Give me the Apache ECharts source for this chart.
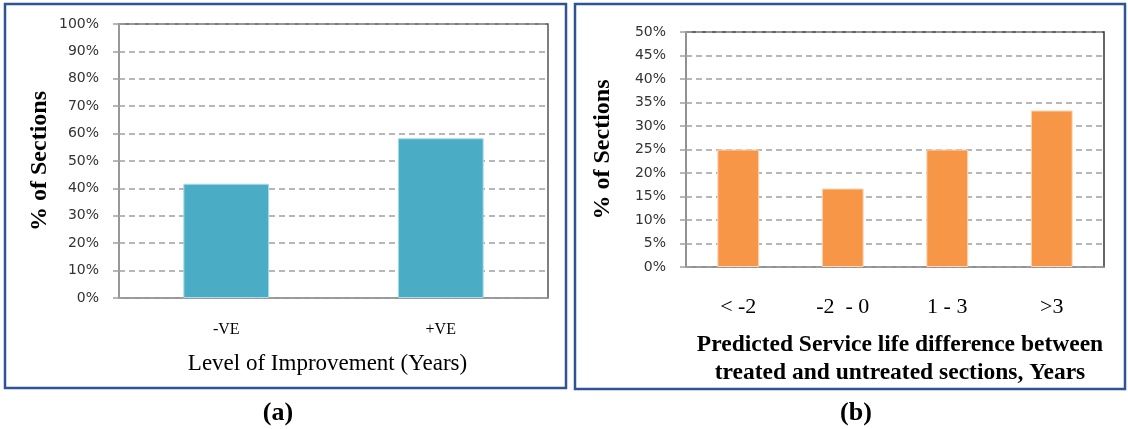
<!DOCTYPE html>
<html>
<head>
<meta charset="utf-8">
<script src="https://cdn.jsdelivr.net/npm/echarts@6/dist/echarts.min.js"></script>
<style>
html,body{margin:0;padding:0;background:#fff;}
#chart{width:1128px;height:429px;}
</style>
</head>
<body>
<div id="chart"></div>
<script>
// ---- data ----
const catsA = ['-VE', '+VE'];
const valsA = [41.7, 58.3];
const catsB = ['< -2', '-2  - 0', '1 - 3', '>3'];
const valsB = [25, 16.7, 25, 33.3];
const yMaxA = 100, yStepA = 10;
const yMaxB = 50, yStepB = 5;
const yNameA = '% of Sections';
const yNameB = '% of Sections';
const xNameA = 'Level of Improvement (Years)';
const xNameB = 'Predicted Service life difference between\ntreated and untreated sections, Years';
const panelLabels = ['(a)', '(b)'];

const serif = '"Liberation Serif", "Times New Roman", serif';
const sans = '"DejaVu Sans", Verdana, sans-serif';

const chart = echarts.init(document.getElementById('chart'), null, {renderer: 'canvas'});

function yAxisCfg(gridIndex, max, step, name, gap) {
  return {
    type: 'value', gridIndex: gridIndex, min: 0, max: max, interval: step,
    name: name, nameLocation: 'middle', nameRotate: 90, nameGap: gap,
    nameTextStyle: {fontFamily: serif, fontWeight: 'bold', fontSize: 24, color: '#000', lineHeight: 24},
    axisLine: {show: true, lineStyle: {color: '#a0a0a0', width: 1.5}},
    axisTick: {show: true, inside: false, length: 6, lineStyle: {color: '#a0a0a0', width: 1.5}},
    axisLabel: {formatter: '{value}%', margin: 20, fontFamily: sans, fontSize: 14, color: '#333'},
    splitLine: {show: true, lineStyle: {color: '#a0a0a0', type: [6, 4], width: 1.5}}
  };
}

const option = {
  animation: false,
  backgroundColor: '#fff',
  grid: [
    {left: 119, top: 24, width: 429, height: 274, show: true, borderColor: '#555', borderWidth: 1.5, backgroundColor: 'transparent'},
    {left: 686, top: 32, width: 418, height: 235, show: true, borderColor: '#333', borderWidth: 1.5, backgroundColor: 'transparent'}
  ],
  xAxis: [
    {
      type: 'category', gridIndex: 0, data: catsA,
      name: xNameA, nameLocation: 'middle', nameGap: 55,
      nameTextStyle: {fontFamily: serif, fontSize: 23, color: '#000', lineHeight: 22, padding: [0, 12, 0, 0]},
      axisLine: {lineStyle: {color: '#a0a0a0', width: 1.5}},
      axisTick: {show: false},
      axisLabel: {margin: 24, fontFamily: serif, fontSize: 16, lineHeight: 16, color: '#000'}
    },
    {
      type: 'category', gridIndex: 1, data: catsB,
      name: xNameB, nameLocation: 'middle', nameGap: 64,
      nameTextStyle: {fontFamily: serif, fontWeight: 'bold', fontSize: 23.5, color: '#000', lineHeight: 28, padding: [0, 0, 0, 10]},
      axisLine: {lineStyle: {color: '#a0a0a0', width: 1.5}},
      axisTick: {show: false},
      axisLabel: {margin: 29, fontFamily: serif, fontSize: 22, lineHeight: 22, color: '#000'}
    }
  ],
  yAxis: [
    yAxisCfg(0, yMaxA, yStepA, yNameA, 67),
    yAxisCfg(1, yMaxB, yStepB, yNameB, 71)
  ],
  series: [
    {type: 'bar', xAxisIndex: 0, yAxisIndex: 0, data: valsA, barWidth: '40%',
     itemStyle: {color: '#4bacc6', borderColor: '#a9dbe8', borderWidth: 1}},
    {type: 'bar', xAxisIndex: 1, yAxisIndex: 1, data: valsB, barWidth: '40%',
     itemStyle: {color: '#f79646', borderColor: '#fcd5b4', borderWidth: 1}}
  ],
  graphic: [
    {type: 'rect', shape: {x: 5, y: 4, width: 561, height: 384}, style: {fill: 'none', stroke: '#2f5496', lineWidth: 2.5}, z: 100},
    {type: 'rect', shape: {x: 575, y: 4, width: 550, height: 385}, style: {fill: 'none', stroke: '#2f5496', lineWidth: 2.5}, z: 100},
    {type: 'text', x: 278, y: 413, style: {text: panelLabels[0], align: 'center', verticalAlign: 'middle', fontFamily: serif, fontWeight: 'bold', fontSize: 26, fill: '#000'}},
    {type: 'text', x: 856, y: 413, style: {text: panelLabels[1], align: 'center', verticalAlign: 'middle', fontFamily: serif, fontWeight: 'bold', fontSize: 26, fill: '#000'}}
  ]
};
chart.setOption(option);
</script>
</body>
</html>
